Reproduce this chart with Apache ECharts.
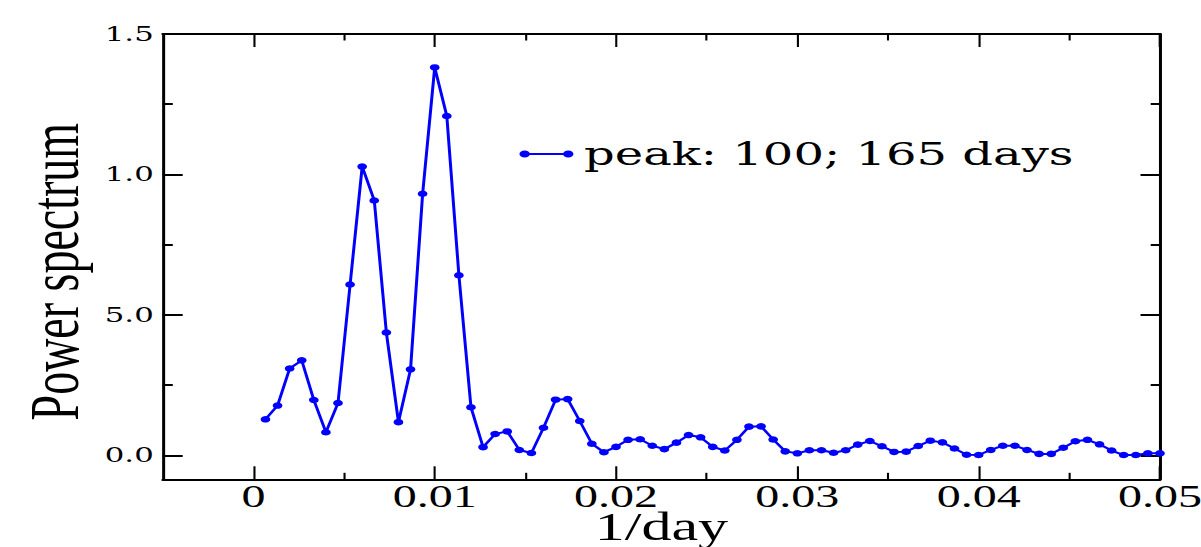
<!DOCTYPE html>
<html>
<head>
<meta charset="utf-8">
<script src="https://cdn.jsdelivr.net/npm/echarts@6/dist/echarts.min.js"></script>
<style>
  html, body { margin: 0; padding: 0; background: #fff; overflow: hidden; }
  /* the source picture is stretched sideways, so draw narrow and stretch */
  #chart { width: 800px; height: 547px; transform: scaleX(1.50125); transform-origin: 0 0; }
</style>
</head>
<body>
<div id="chart"></div>
<script>
// frequency resolution of the spectrum (points are 1/1500 apart)
var freqStep = 1 / 1500;
// power spectrum, first point at 1 * freqStep
var powerValues = [
  0.128, 0.177, 0.309, 0.338, 0.197, 0.082, 0.186, 0.608, 1.028, 0.907,
  0.437, 0.118, 0.306, 0.931, 1.381, 1.208, 0.641, 0.171, 0.029, 0.076,
  0.085, 0.019, 0.008, 0.098, 0.198, 0.200, 0.122, 0.041, 0.011, 0.030,
  0.055, 0.057, 0.034, 0.022, 0.045, 0.072, 0.064, 0.030, 0.017, 0.055,
  0.102, 0.103, 0.056, 0.014, 0.007, 0.018, 0.018, 0.009, 0.018, 0.038,
  0.051, 0.032, 0.012, 0.013, 0.033, 0.052, 0.046, 0.024, 0.002, 0.001,
  0.019, 0.034, 0.034, 0.019, 0.005, 0.005, 0.027, 0.050, 0.055, 0.039,
  0.017, 0.001, 0.001, 0.007, 0.007
];
var xMajorTicks = [0, 0.01, 0.02, 0.03, 0.04, 0.05];
var xMajorLabels = ['0', '0.01', '0.02', '0.03', '0.04', '0.05'];
var xMinorTicks = [0.005, 0.015, 0.025, 0.035, 0.045];
var yMajorTicks = [0, 0.5, 1.0, 1.5];
var yMajorLabels = ['0.0', '5.0', '1.0', '1.5'];
var yMinorTicks = [0.25, 0.75, 1.25];
var seriesName = 'peak: 100; 165 days';

var points = [];
for (var i = 0; i < powerValues.length; i++) {
  points.push([(i + 1) * freqStep, powerValues[i]]);
}

var black = '#000';
var xMin = -0.005, xMax = 0.05, yMin = -0.0855, yMax = 1.5;

function xAxisOf(pos, ticks, len, withLine, withLabel) {
  return {
    type: 'value', position: pos, min: xMin, max: xMax,
    axisLine: { show: withLine, onZero: false, lineStyle: { color: black, width: 2 } },
    axisTick: { show: true, inside: true, length: len, customValues: ticks,
      lineStyle: { color: black, width: 1.4 } },
    axisLabel: withLabel ? {
      customValues: xMajorTicks, margin: 6, color: black,
      fontFamily: 'Liberation Serif', fontSize: 32, lineHeight: 22,
      formatter: function (v) { return xMajorLabels[xMajorTicks.indexOf(v)]; }
    } : { show: false },
    splitLine: { show: false }
  };
}
function yAxisOf(pos, ticks, len, withLine, withLabel) {
  return {
    type: 'value', position: pos, min: yMin, max: yMax,
    axisLine: { show: withLine, onZero: false, lineStyle: { color: black, width: 2 } },
    axisTick: { show: true, inside: true, length: len, customValues: ticks,
      lineStyle: { color: black, width: 2 } },
    axisLabel: withLabel ? {
      customValues: yMajorTicks, margin: 6, color: black,
      fontFamily: 'DejaVu Serif', fontSize: 20.5,
      formatter: function (v) { return yMajorLabels[yMajorTicks.indexOf(v)]; }
    } : { show: false },
    splitLine: { show: false }
  };
}

var xMain = xAxisOf('bottom', xMajorTicks, 13, true, true);
xMain.name = '1/day';
xMain.nameLocation = 'middle';
xMain.nameGap = 33;
xMain.nameMoveOverlap = false;
xMain.nameTextStyle = { color: black, fontFamily: 'Liberation Serif', fontSize: 40, lineHeight: 28 };

var yMain = yAxisOf('left', yMajorTicks, 13.3, true, true);
yMain.name = 'Power spectrum';
yMain.nameLocation = 'middle';
yMain.nameGap = 49;
yMain.nameMoveOverlap = false;
yMain.nameTextStyle = { color: black, fontFamily: 'Liberation Serif', fontSize: 46,
  padding: [0, 30, 0, 0] };

var chart = echarts.init(document.getElementById('chart'), null, { renderer: 'svg' });
chart.setOption({
  animation: false,
  backgroundColor: '#fff',
  grid: { left: 108.4, right: 27.3, top: 34, bottom: 67.7, outerBoundsMode: 'none' },
  legend: {
    left: 346, top: 138, padding: 0,
    itemWidth: 36, itemHeight: 7, itemGap: 0,
    icon: 'path://M0,3.5 A3.5,3.5 0 1,1 7,3.5 A3.5,3.5 0 1,1 0,3.5 Z M6,2.6 L30,2.6 L30,4.4 L6,4.4 Z M29,3.5 A3.5,3.5 0 1,1 36,3.5 A3.5,3.5 0 1,1 29,3.5 Z',
    textStyle: { color: black, fontFamily: 'DejaVu Serif', fontSize: 32, padding: [0, 0, 0, 2] },
    data: [seriesName]
  },
  xAxis: [
    xMain,
    xAxisOf('bottom', xMinorTicks, 6.5, false, false),
    xAxisOf('top', xMajorTicks, 13, true, false),
    xAxisOf('top', xMinorTicks, 6.5, false, false)
  ],
  yAxis: [
    yMain,
    yAxisOf('left', yMinorTicks, 6.7, false, false),
    yAxisOf('right', yMajorTicks, 13, true, false),
    yAxisOf('right', yMinorTicks, 6.2, false, false)
  ],
  series: [{
    name: seriesName,
    type: 'line',
    xAxisIndex: 0,
    yAxisIndex: 0,
    data: points,
    symbol: 'circle',
    symbolSize: 6.5,
    showAllSymbol: true,
    lineStyle: { color: '#0000ff', width: 2 },
    itemStyle: { color: '#0000ff', borderWidth: 0 }
  }]
});
</script>
</body>
</html>
